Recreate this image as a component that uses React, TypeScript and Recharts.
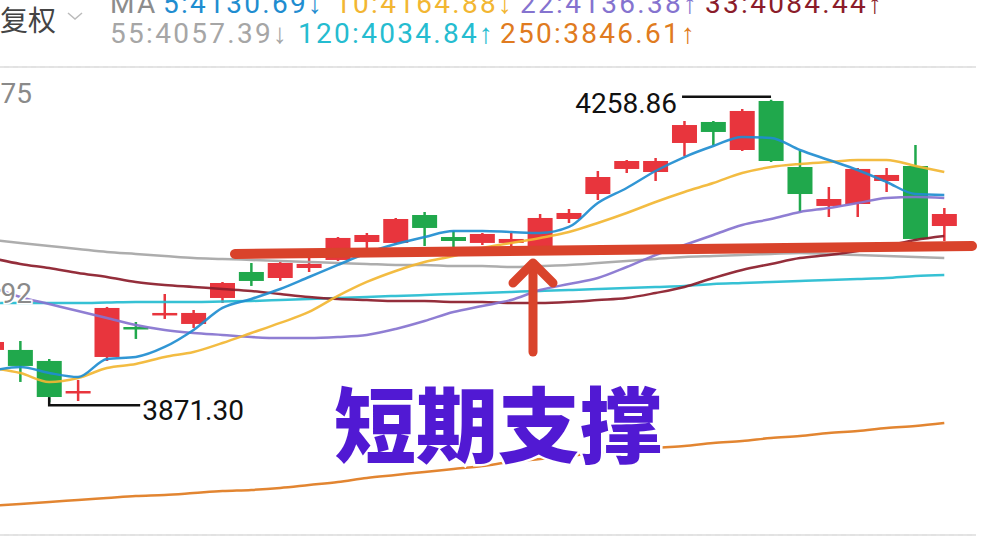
import {
  ComposedChart,
  Bar,
  Line,
  XAxis,
  YAxis,
  CartesianGrid,
  ReferenceLine,
  ReferenceDot,
} from 'recharts';

// daily candles, oldest first (first one is cut off by the left edge)
const open = [3938.2, 3938.2, 3924.1, 3883.1, 3929.2, 3967.6, 3983.0, 3971.5, 4004.8, 4038.1, 4030.4, 4043.2, 4053.5, 4076.5, 4075.3, 4111.1, 4082.9, 4075.3, 4075.3, 4066.3, 4106.0, 4138.0, 4170.1, 4166.2, 4203.4, 4230.3, 4194.4, 4257.2, 4172.6, 4122.7, 4125.2, 4154.7, 4173.9, 4097.0];
const high = [3953.5, 3949.7, 3926.6, 3899.7, 3993.3, 3974.0, 4009.9, 3989.4, 4025.3, 4049.6, 4050.9, 4057.3, 4082.9, 4088.1, 4107.3, 4115.0, 4090.6, 4088.1, 4088.1, 4112.4, 4118.8, 4167.5, 4181.6, 4184.2, 4231.6, 4231.6, 4246.9, 4258.86, 4193.1, 4147.0, 4171.3, 4171.3, 4200.8, 4120.1];
const low = [3933.0, 3897.2, 3871.3, 3872.8, 3924.1, 3952.3, 3977.9, 3966.4, 3998.4, 4020.2, 4026.6, 4038.1, 4052.2, 4068.8, 4074.0, 4071.4, 4070.1, 4072.7, 4070.1, 4065.0, 4100.9, 4130.3, 4164.9, 4154.7, 4186.7, 4200.8, 4193.1, 4179.0, 4115.0, 4108.6, 4108.6, 4140.6, 4079.1, 4077.8];
const close = [3948.4, 3917.7, 3877.9, 3885.6, 3992.0, 3965.1, 3985.6, 3985.6, 4024.0, 4026.6, 4049.6, 4048.4, 4081.7, 4085.5, 4106.0, 4094.5, 4077.8, 4086.8, 4080.4, 4107.3, 4113.7, 4159.8, 4180.3, 4180.3, 4226.4, 4217.5, 4244.4, 4180.3, 4138.0, 4131.6, 4170.1, 4162.4, 4080.4, 4112.4];

const ma5 = [3911.3, 3916.4, 3908.7, 3903.6, 3926.6, 3929.2, 3942.0, 3963.8, 3992.0, 4003.5, 4016.3, 4031.7, 4047.1, 4062.4, 4074.0, 4082.9, 4090.6, 4090.6, 4089.3, 4088.1, 4095.8, 4126.5, 4145.7, 4167.5, 4185.4, 4199.5, 4211.1, 4209.8, 4194.4, 4181.6, 4168.8, 4153.4, 4138.0, 4136.8];
const ma10 = [3915.1, 3908.7, 3897.2, 3902.3, 3915.1, 3920.2, 3929.2, 3935.6, 3947.1, 3959.9, 3972.8, 3986.9, 4007.4, 4025.3, 4039.4, 4050.9, 4058.6, 4068.8, 4075.3, 4081.7, 4089.3, 4100.9, 4113.7, 4127.8, 4140.6, 4152.1, 4164.9, 4172.6, 4176.5, 4179.0, 4181.6, 4181.6, 4173.9, 4166.2];
const ma22 = [4018.9, 4006.1, 3997.1, 3988.1, 3979.2, 3970.2, 3963.8, 3959.9, 3957.4, 3954.8, 3953.5, 3953.5, 3954.8, 3957.4, 3965.1, 3975.3, 3986.9, 3994.5, 4002.2, 4015.0, 4022.7, 4030.4, 4044.5, 4059.9, 4072.7, 4085.5, 4098.3, 4106.0, 4115.0, 4120.1, 4126.5, 4132.9, 4134.2, 4132.9];
const ma33 = [4056.0, 4048.4, 4043.2, 4036.8, 4031.7, 4025.3, 4021.4, 4018.9, 4016.3, 4013.8, 4009.9, 4006.1, 4003.5, 4002.2, 4000.9, 4000.9, 3999.7, 3999.7, 3998.4, 3998.4, 3999.7, 4002.2, 4004.8, 4011.2, 4018.9, 4030.4, 4040.7, 4048.4, 4056.0, 4059.9, 4065.0, 4071.4, 4079.1, 4084.2];
const ma55 = [4079.1, 4075.3, 4071.4, 4067.6, 4063.7, 4061.2, 4058.6, 4056.0, 4054.8, 4053.5, 4052.2, 4050.9, 4049.6, 4048.4, 4047.1, 4047.1, 4045.8, 4045.8, 4044.5, 4045.8, 4047.1, 4049.6, 4052.2, 4054.8, 4057.3, 4058.6, 4059.9, 4061.2, 4062.4, 4061.2, 4059.9, 4058.6, 4057.3, 4056.0];
const ma120 = [3998.4, 3998.4, 3998.4, 3998.4, 3999.0, 3999.7, 3999.7, 3999.7, 4000.3, 4000.9, 4002.2, 4003.5, 4004.8, 4006.1, 4007.4, 4008.6, 4009.9, 4011.2, 4012.5, 4013.8, 4015.0, 4016.3, 4017.6, 4018.9, 4020.2, 4022.7, 4024.0, 4025.3, 4026.6, 4027.9, 4029.1, 4030.4, 4033.0, 4034.3];
const ma250 = [3738.3, 3740.9, 3743.4, 3746.0, 3748.5, 3751.1, 3752.4, 3754.9, 3757.5, 3758.8, 3761.4, 3765.2, 3769.0, 3774.2, 3778.0, 3781.9, 3785.7, 3789.5, 3794.7, 3798.5, 3802.4, 3806.2, 3808.8, 3812.6, 3815.2, 3819.0, 3821.6, 3825.4, 3828.0, 3831.8, 3834.4, 3838.2, 3840.8, 3844.6];

// one empty slot at the right end, like the app leaves
const sessions = [...open.map((_, i) => `D${i + 1}`), 'D35'];

// MA legend in the header
const maNames = ['5', '10', '22', '33', '55', '120', '250'];
const maLatest = ['4130.69', '4164.88', '4136.38', '4084.44', '4057.39', '4034.84', '3846.61'];
const maTrend = ['↓', '↓', '↑', '↑', '↓', '↑', '↑'];
const maSeries = [ma5, ma10, ma22, ma33, ma55, ma120, ma250];

const yTicks = [3701.09, 3851.005, 4000.92, 4150.835, 4300.75];
const yTickText = ['', '', '4000.92', '', '4300.75'];

const RED = '#e8353d';
const GREEN = '#20a84c';
const maColors = ['#1f8dd0', '#f2b632', '#8573cf', '#8b1c2a', '#a6a6a6', '#25bcd0', '#e07b20'];
const headerX = [163, 335, 520, 705, 110, 298, 500];

const rows = sessions.map((d, i) => {
  if (i >= open.length) return { d };
  const row: any = { d, range: [low[i], high[i]], open: open[i], high: high[i], low: low[i], close: close[i] };
  maNames.forEach((n, k) => (row['ma' + n] = maSeries[k][i]));
  return row;
});

const hiIdx = high.indexOf(Math.max(...high));
const loIdx = low.indexOf(Math.min(...low));

function Candle(props: any) {
  const { x, y, width, height, payload } = props;
  if (!payload || payload.open == null) return <g />;
  const top = height < 0 ? y + height : y;
  const h = Math.abs(height);
  const k = h / (payload.high - payload.low);
  const yo = top + (payload.high - payload.open) * k;
  const yc = top + (payload.high - payload.close) * k;
  const color = payload.close >= payload.open ? RED : GREEN;
  const cx = x + width / 2;
  return (
    <g>
      <line x1={cx} x2={cx} y1={top} y2={top + h} stroke={color} strokeWidth={2.5} />
      <rect x={x} y={Math.min(yo, yc)} width={width} height={Math.max(Math.abs(yo - yc), 2.5)} fill={color} />
    </g>
  );
}

// price label on a grid line, the app cuts it at the left edge
function YLabel(props: any) {
  const { viewBox, text, dy } = props;
  if (!viewBox) return null;
  return (
    <text x={viewBox.x + 55} y={viewBox.y + dy} textAnchor="end" fontSize={28} fill="#8a8a8a" fontFamily="Roboto"
      stroke="#fff" strokeWidth={3} paintOrder="stroke">
      {text}
    </text>
  );
}

function HighMark(props: any) {
  const { cx, cy } = props;
  return (
    <g>
      <line x1={cx - 89} x2={cx} y1={cy - 3} y2={cy - 3} stroke="#111" strokeWidth={2.5} />
      <text x={cx - 94} y={cy + 13} textAnchor="end" fontSize={28} fill="#111" fontFamily="Roboto">
        {high[hiIdx].toFixed(2)}
      </text>
    </g>
  );
}

function LowMark(props: any) {
  const { cx, cy } = props;
  return (
    <g>
      <polyline points={`${cx},${cy - 5} ${cx},${cy + 3} ${cx + 91},${cy + 3}`} fill="none" stroke="#111" strokeWidth={2.5} />
      <text x={cx + 93} y={cy + 18} fontSize={28} fill="#111" fontFamily="Roboto">
        {low[loIdx].toFixed(2)}
      </text>
    </g>
  );
}

export default function App() {
  return (
    <div style={{ position: 'absolute', left: 0, top: 0, width: 984, height: 544, background: '#fff', overflow: 'hidden' }}>
      <div style={{ position: 'absolute', left: 0, top: 0, width: 976, height: 544, overflow: 'hidden' }}>
        <div style={{ position: 'absolute', left: -23.44, top: 0 }}>
          <ComposedChart width={1012} height={544} data={rows} margin={{ top: 67, right: 1.4, bottom: 9, left: 0 }}>
            <CartesianGrid vertical={false} stroke="#e4e4e4" strokeDasharray="5 4" />
            <XAxis dataKey="d" hide />
            <YAxis
              type="number"
              domain={[yTicks[0], yTicks[4]]}
              ticks={yTicks}
              allowDataOverflow
              width={0}
              axisLine={false}
              tickLine={false}
              tick={false}
              interval={0}
            />
            <ReferenceLine y={yTicks[4]} stroke="#dcdcdc" strokeWidth={1.5} />
            <ReferenceLine y={yTicks[0]} stroke="#dcdcdc" strokeWidth={1.5} />
            <Bar dataKey="range" barSize={25} shape={<Candle />} isAnimationActive={false} />
            {[...maNames].reverse().map((n) => {
              const k = maNames.indexOf(n);
              return (
                <Line
                  key={n}
                  dataKey={'ma' + n}
                  type="monotone"
                  stroke={maColors[k]}
                  strokeWidth={2.5}
                  dot={false}
                  strokeOpacity={0.92}
                  isAnimationActive={false}
                />
              );
            })}
            <ReferenceLine y={yTicks[4]} stroke="none" label={<YLabel text={yTickText[4]} dy={36} />} />
            <ReferenceLine y={yTicks[2]} stroke="none" label={<YLabel text={yTickText[2]} dy={2} />} />
            <ReferenceDot x={sessions[hiIdx]} y={high[hiIdx]} r={0} shape={<HighMark />} />
            <ReferenceDot x={sessions[loIdx]} y={low[loIdx]} r={0} shape={<LowMark />} />
          </ComposedChart>
        </div>
      </div>

      <svg width={984} height={544} style={{ position: 'absolute', left: 0, top: 0, pointerEvents: 'none' }}>
        {/* header */}
        <text x={0} y={31} fontSize={28} fill="#444" fontFamily="Noto Sans CJK SC">复权</text>
        <polyline points="68,13 75,19 82,13" fill="none" stroke="#bbb" strokeWidth={1.5} />
        <g fontFamily="Roboto" fontSize={28} letterSpacing={2.3}>
          <text x={110} y={13} fill="#8c8c8c">MA</text>
          {maNames.map((n, k) => (
            <text key={n} x={headerX[k]} y={k < 4 ? 13 : 43} fill={maColors[k]}>
              {`${n}:${maLatest[k]}${maTrend[k]}`}
            </text>
          ))}
        </g>

        {/* hand-drawn support annotation */}
        <line x1={235} y1={254} x2={972} y2={246} stroke="#d9432b" strokeWidth={10} strokeLinecap="round" />
        <g stroke="#d9432b" strokeWidth={9} strokeLinecap="round" strokeLinejoin="round" fill="none">
          <line x1={533} y1={352} x2={533} y2={264} />
          <polyline points="513,283 533,263 553,283" />
        </g>
        <text x={498} y={456} textAnchor="middle" fontSize={82} fontWeight={900}
          fontFamily="Noto Sans CJK SC" fill="#5119d3" stroke="#fff" strokeWidth={5} paintOrder="stroke">
          短期支撑
        </text>
      </svg>
    </div>
  );
}
